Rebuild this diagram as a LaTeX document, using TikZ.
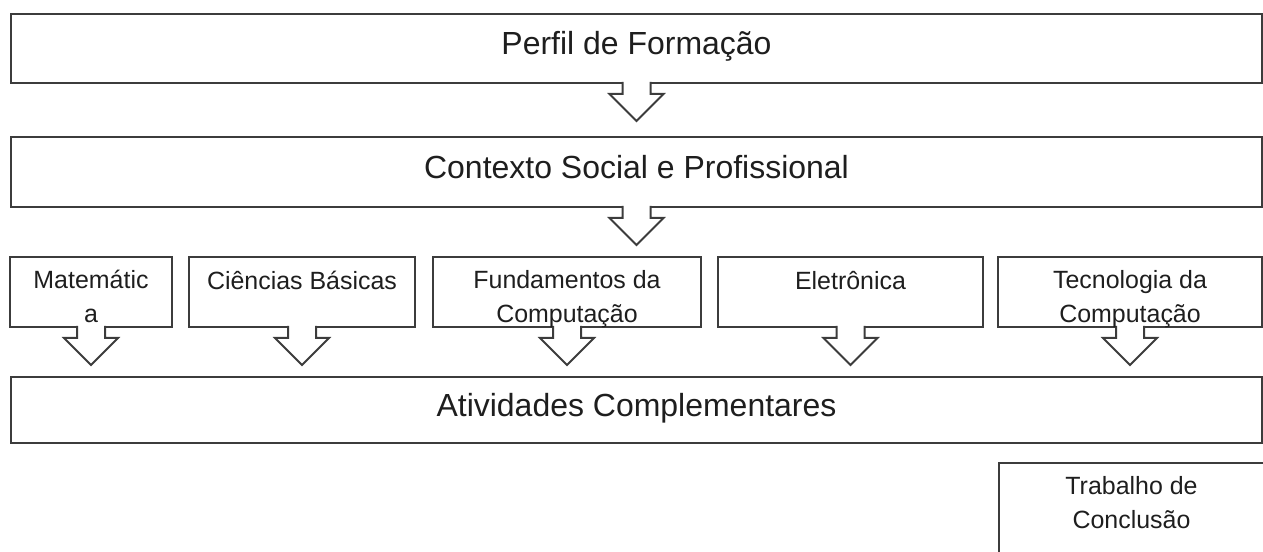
\documentclass[tikz,border=0pt]{standalone}
\usepackage{fontspec}
\setmainfont{Liberation Sans}
\usetikzlibrary{positioning, calc}
\definecolor{lineGray}{HTML}{3C3C3C}
\definecolor{textDark}{HTML}{1E1E1E}

\begin{document}
\begin{tikzpicture}[x=0.02cm, y=-0.02cm,
    widebox/.style={draw=lineGray, line width=0.04cm, inner sep=0, outer sep=0,
        minimum width=25.02cm, text=textDark, font=\fontsize{18.2}{21}\selectfont,
        text height=13.3pt, text depth=6.4pt},
    areabox/.style={draw=lineGray, line width=0.04cm, inner sep=0, outer sep=0,
        minimum height=1.40cm},
    areatext/.style={anchor=base, inner sep=0, align=center, text=textDark,
        font=\fontsize{14.2}{18.8}\selectfont},
    blockarrow/.style={draw=lineGray, line width=0.04cm, fill=white, line join=miter}
]
    \useasboundingbox (0,0) rectangle (1263,551);

    \node[widebox, minimum height=1.38cm] (perfil) at (636.5,48.5) {Perfil de Formação};
    \node[widebox, minimum height=1.40cm] (contexto) at (636.5,172) {Contexto Social e Profissional};
    \node[widebox, minimum height=1.32cm] (atividades) at (636.5,410) {Atividades Complementares};

    \node[areabox, minimum width=3.24cm] (mat) at (91,292) {};
    \node[areabox, minimum width=4.52cm] (cien) at (302,292) {};
    \node[areabox, minimum width=5.36cm] (fund) at (567,292) {};
    \node[areabox, minimum width=5.30cm] (eletr) at (850.5,292) {};
    \node[areabox, minimum width=5.28cm] (tec) at (1130,292) {};
    \node[areabox, minimum width=5.30cm, minimum height=2.40cm] (trab) at (1131.5,523) {};

    % setas em bloco
    \foreach \src in {perfil,contexto,mat,cien,fund,eletr,tec}
        \draw[blockarrow] ($(\src.south)+(-14,-1)$) -- ++(0,12) -- ++(-13,0)
            -- ($(\src.south)+(0,38)$) -- ($(\src.south)+(27,11)$) -- ++(-13,0) -- ++(0,-12);

    % base da ultima linha
    \node[areatext] (matText) at ($(mat.north)+(0,65)$) {Matemátic\\a};
    \node[areatext] (cienText) at ($(cien.north)+(0,32)$) {Ciências Básicas};
    \node[areatext] (fundText) at ($(fund.north)+(0,65)$) {Fundamentos da\\Computação};
    \node[areatext] (eletrText) at ($(eletr.north)+(0,32)$) {Eletrônica};
    \node[areatext] (tecText) at ($(tec.north)+(0,65)$) {Tecnologia da\\Computação};
    \node[areatext] (trabText) at ($(trab.north)+(0,65)$) {Trabalho de\\Conclusão};
\end{tikzpicture}
\end{document}
